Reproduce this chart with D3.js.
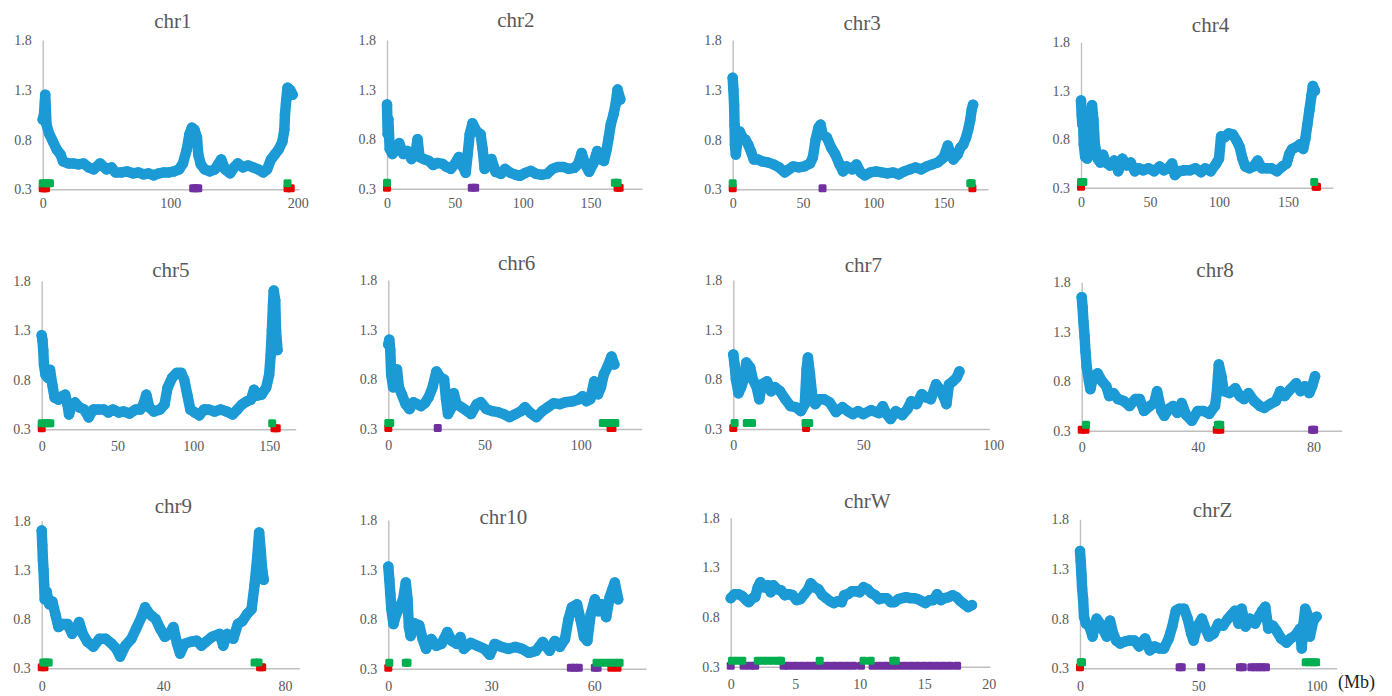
<!DOCTYPE html>
<html>
<head>
<meta charset="utf-8">
<script src="https://cdn.jsdelivr.net/npm/d3@7"></script>
<style>
  body { margin: 0; background: #fff; }
  svg { display: block; }
</style>
</head>
<body>
<script>
// ---- data ----
const chrNames = ["chr1", "chr2", "chr3", "chr4", "chr5", "chr6", "chr7", "chr8", "chr9", "chr10", "chrW", "chrZ"];
const axisMax = [201, 188, 181.6, 182.6, 167.5, 131.7, 98.5, 89.7, 84.7, 75.1, 20.1, 108.5];
const xTickValues = [
    [0, 100, 200], [0, 50, 100, 150], [0, 50, 100, 150], [0, 50, 100, 150],
    [0, 50, 100, 150], [0, 50, 100], [0, 50, 100], [0, 40, 80],
    [0, 40, 80], [0, 30, 60], [0, 5, 10, 15, 20], [0, 50, 100]
];
const yTickValues = [0.3, 0.8, 1.3, 1.8];

const ratioChr1 = [[0,1.0],[1,1.05],[2,1.25],[3,0.95],[5,0.86],[8,0.78],[11,0.7],[14,0.65],[16,0.58],[20,0.56],[24,0.56],[28,0.55],[32,0.56],[36,0.52],[40,0.5],[45,0.56],[50,0.5],[54,0.52],[57,0.47],[62,0.47],[66,0.48],[71,0.46],[75,0.47],[79,0.45],[83,0.46],[87,0.44],[91,0.46],[95,0.47],[99,0.47],[103,0.48],[107,0.5],[110,0.56],[113,0.7],[115,0.85],[117,0.92],[119,0.9],[121,0.82],[122,0.65],[124,0.55],[127,0.5],[131,0.48],[135,0.5],[138,0.56],[140,0.6],[143,0.5],[147,0.46],[150,0.52],[153,0.56],[157,0.52],[161,0.54],[165,0.52],[169,0.5],[173,0.47],[176,0.5],[179,0.6],[182,0.65],[185,0.7],[188,0.78],[189.5,0.9],[190,1.05],[191,1.2],[192,1.32],[194,1.3],[196,1.25]];
const ratioChr2 = [[0,1.15],[0.5,0.85],[1,1.0],[2,0.7],[4,0.65],[7,0.7],[9,0.76],[12,0.65],[15,0.68],[18,0.6],[21,0.65],[22.5,0.8],[24,0.62],[27,0.6],[31,0.58],[34,0.54],[37,0.56],[41,0.55],[44,0.52],[47,0.5],[50,0.55],[53,0.62],[56,0.52],[58,0.46],[59.5,0.65],[61,0.85],[63,0.96],[66,0.88],[69,0.85],[70.5,0.7],[72,0.5],[75,0.55],[77,0.6],[80,0.47],[84,0.45],[87,0.5],[91,0.46],[95,0.44],[98,0.43],[102,0.46],[106,0.48],[110,0.45],[114,0.44],[118,0.45],[122,0.5],[126,0.52],[130,0.52],[134,0.5],[138,0.51],[141,0.55],[143.5,0.66],[146,0.55],[149,0.47],[152,0.55],[155,0.68],[157,0.6],[160,0.58],[162,0.7],[163.5,0.82],[165,0.95],[167,1.05],[168.5,1.15],[170,1.3],[172,1.2]];
const ratioChr3 = [[0,1.42],[0.5,1.3],[1,1.15],[1.3,0.95],[1.6,0.75],[2.2,0.65],[3.5,0.8],[5,0.88],[7,0.82],[9,0.8],[11,0.75],[13,0.68],[15,0.6],[18,0.6],[21,0.58],[25,0.57],[29,0.55],[33,0.52],[37,0.47],[40,0.5],[43,0.53],[47,0.52],[51,0.53],[55,0.56],[57,0.62],[59,0.8],[61,0.92],[62.5,0.95],[64,0.85],[67,0.82],[70,0.72],[73,0.65],[76,0.55],[78.5,0.48],[81,0.53],[85,0.5],[88,0.55],[91,0.47],[94,0.44],[98,0.47],[102,0.48],[106,0.47],[110,0.46],[114,0.47],[118,0.45],[122,0.48],[126,0.5],[130,0.52],[134,0.5],[138,0.53],[142,0.55],[146,0.57],[150,0.62],[153,0.74],[155,0.66],[157,0.6],[160,0.65],[162,0.72],[164,0.75],[166,0.82],[167.5,0.9],[169,1.0],[170,1.1],[171,1.15]];
const ratioChr4 = [[0,1.2],[0.5,1.05],[1,0.95],[1.5,1.0],[2,0.75],[3,0.62],[4.5,0.6],[6,0.75],[7,0.95],[8,1.15],[9,1.0],[10,0.75],[12,0.6],[14,0.56],[16,0.64],[18,0.56],[21,0.53],[24,0.58],[27,0.47],[30,0.6],[33,0.53],[36,0.56],[39,0.47],[42,0.5],[45,0.48],[49,0.5],[53,0.47],[57,0.52],[60,0.48],[63,0.5],[66,0.55],[68,0.43],[71,0.47],[75,0.48],[79,0.48],[83,0.5],[87,0.46],[90,0.5],[94,0.47],[98,0.55],[100,0.6],[101.5,0.83],[104,0.82],[107,0.86],[110,0.85],[113,0.78],[115,0.72],[117,0.6],[119,0.52],[122,0.5],[125,0.52],[128,0.58],[131,0.5],[135,0.5],[138,0.5],[142,0.47],[146,0.52],[149,0.55],[151,0.65],[153,0.7],[156,0.72],[159,0.75],[161,0.7],[162.5,0.8],[164,0.95],[165.5,1.1],[167,1.25],[168,1.35],[169.5,1.3]];
const ratioChr5 = [[0,1.25],[0.5,1.2],[1,1.1],[1.5,0.95],[2.5,0.85],[4,0.82],[5.5,0.9],[7,0.75],[8.5,0.62],[11,0.6],[13,0.63],[15.5,0.65],[17,0.55],[18,0.45],[20,0.55],[22,0.57],[25,0.52],[28,0.5],[31,0.42],[34,0.5],[37,0.5],[41,0.5],[44,0.47],[47,0.5],[51,0.47],[54,0.48],[58,0.46],[62,0.5],[65,0.5],[67,0.55],[69,0.65],[71,0.52],[74,0.48],[78,0.5],[81,0.55],[83,0.72],[86,0.82],[89,0.87],[92,0.87],[94,0.8],[96,0.65],[98,0.5],[101,0.47],[104,0.44],[107,0.5],[110,0.5],[114,0.48],[118,0.5],[122,0.48],[126,0.45],[129,0.5],[132,0.55],[135,0.58],[138,0.6],[140,0.7],[142,0.64],[145,0.65],[148,0.72],[150,0.85],[151,1.05],[151.8,1.3],[152.5,1.55],[153,1.7],[154,1.6],[154.5,1.3],[155.5,1.1]];
const ratioChr6 = [[0,1.15],[0.5,1.2],[1,1.1],[1.5,0.85],[2.5,0.72],[3.5,0.8],[4.5,0.9],[5.5,0.72],[7,0.65],[9,0.55],[11,0.5],[13,0.57],[15,0.55],[17,0.53],[19,0.56],[21,0.62],[23,0.72],[25,0.88],[27,0.82],[29,0.8],[30,0.6],[31,0.45],[33,0.52],[34,0.66],[35.5,0.55],[38,0.52],[41,0.48],[43,0.45],[46,0.55],[48,0.57],[51,0.5],[54,0.48],[57,0.47],[60,0.45],[63,0.42],[66,0.45],[69,0.48],[71,0.52],[74,0.46],[77,0.42],[80,0.48],[83,0.52],[86,0.56],[89,0.55],[92,0.57],[96,0.58],[99,0.6],[101,0.63],[103,0.58],[105,0.6],[107,0.78],[109,0.65],[110.5,0.72],[112,0.85],[114,0.93],[116,1.03],[117.5,0.95]];
const ratioChr7 = [[0,1.05],[0.5,0.95],[1,0.8],[2,0.66],[3,0.72],[4,0.8],[5,0.97],[6.5,0.92],[7.5,0.8],[9,0.72],[10,0.6],[11,0.75],[13,0.78],[14.5,0.68],[16,0.72],[18,0.68],[20,0.6],[22,0.53],[24,0.52],[26,0.48],[27.5,0.55],[28.2,0.9],[28.7,1.02],[29.5,0.85],[30.5,0.6],[31.5,0.55],[33,0.6],[35,0.6],[37,0.57],[39.5,0.47],[42,0.52],[44,0.48],[46,0.45],[48,0.48],[50,0.45],[53,0.49],[56,0.46],[57.5,0.53],[59,0.45],[60.5,0.4],[62.5,0.48],[65,0.44],[67,0.5],[68.5,0.58],[70.5,0.55],[72.5,0.65],[74,0.62],[76,0.6],[78,0.75],[79.5,0.7],[81,0.62],[82,0.55],[83,0.75],[84.5,0.78],[86,0.82],[87,0.88]];
const ratioChr8 = [[0,1.65],[0.3,1.55],[0.6,1.4],[1,1.25],[1.3,1.1],[1.7,0.95],[2.5,0.8],[3,0.72],[4,0.85],[5.5,0.88],[7,0.8],[8.5,0.75],[9.5,0.65],[11,0.68],[12.5,0.62],[14.5,0.6],[16.5,0.55],[18.5,0.62],[20,0.62],[21.5,0.5],[23.5,0.55],[25,0.58],[26,0.7],[27.5,0.5],[28.5,0.45],[30,0.52],[31.5,0.55],[33,0.48],[34.5,0.58],[36,0.46],[38,0.4],[40,0.5],[42,0.5],[44,0.47],[46,0.55],[46.6,0.68],[47.3,0.97],[48.2,0.85],[49,0.7],[51,0.68],[53,0.73],[54.5,0.65],[56,0.62],[57.5,0.68],[59.5,0.6],[61.5,0.55],[63,0.53],[65,0.57],[67,0.6],[68.5,0.7],[70,0.65],[72,0.72],[74,0.78],[75.5,0.7],[77,0.75],[78.5,0.68],[79.5,0.75],[80.5,0.85]];
const ratioChr9 = [[0,1.7],[0.2,1.55],[0.4,1.4],[0.6,1.3],[0.8,1.15],[1,1.0],[1.6,1.08],[2.5,0.95],[3.5,0.98],[4.5,0.85],[5.5,0.72],[7,0.75],[8.5,0.75],[10,0.65],[11.5,0.72],[12.3,0.77],[13.5,0.65],[15,0.57],[17,0.52],[19,0.6],[21,0.6],[23,0.55],[24.5,0.5],[25.8,0.42],[27.5,0.53],[29.5,0.6],[31,0.7],[32.8,0.82],[34,0.92],[35.5,0.85],[37.5,0.8],[39,0.7],[40.5,0.62],[42,0.65],[43.3,0.72],[44.5,0.55],[45.5,0.45],[47,0.55],[49,0.57],[51,0.58],[52.5,0.53],[54,0.57],[56,0.62],[58.5,0.65],[59.7,0.53],[61,0.65],[63,0.6],[64.5,0.75],[66,0.78],[67.5,0.85],[69,0.9],[70,1.15],[70.8,1.4],[71.5,1.68],[72,1.5],[72.5,1.3],[73,1.2]];
const ratioChr10 = [[0,1.33],[0.3,1.2],[0.6,1.05],[0.9,0.9],[1.5,0.75],[2.3,0.85],[3.3,0.92],[4.3,1.0],[5.1,1.17],[5.6,1.0],[6,0.72],[6.5,0.63],[7.5,0.76],[9,0.74],[10,0.6],[11,0.5],[12.5,0.6],[14,0.53],[15.5,0.55],[17.2,0.67],[18.5,0.58],[20,0.55],[21,0.62],[22,0.5],[24,0.56],[26,0.53],[28,0.5],[29.6,0.44],[31,0.55],[33,0.52],[35,0.5],[37,0.52],[39,0.5],[41,0.46],[43,0.48],[45,0.57],[47,0.48],[48.5,0.58],[50,0.52],[51.5,0.6],[52.5,0.8],[53.5,0.92],[55,0.95],[56,0.8],[57,0.62],[58,0.58],[59,0.85],[60.2,1.0],[61.2,0.88],[62.2,0.95],[63.5,0.82],[64.5,1.02],[65.3,1.1],[66,1.17],[67,1.0]];
const ratioChrW = [[0,0.99],[0.3,1.03],[0.6,1.03],[0.9,1.01],[1.2,0.97],[1.4,0.95],[1.7,0.99],[1.9,1.0],[2.1,1.1],[2.3,1.15],[2.6,1.1],[2.9,1.12],[3.1,1.05],[3.3,1.12],[3.6,1.08],[3.9,1.07],[4.2,1.02],[4.5,1.03],[4.8,1.02],[5.1,0.97],[5.4,0.98],[5.7,1.03],[6.0,1.08],[6.2,1.14],[6.5,1.1],[6.8,1.08],[7.1,1.02],[7.4,0.99],[7.7,0.96],[8.0,0.94],[8.3,0.96],[8.6,0.95],[8.8,1.02],[9.1,1.03],[9.4,1.06],[9.7,1.06],[10.0,1.05],[10.3,1.1],[10.6,1.08],[10.9,1.04],[11.2,1.02],[11.5,0.98],[11.8,0.99],[12.1,0.99],[12.4,0.95],[12.7,0.95],[13.0,0.98],[13.3,0.99],[13.6,1.0],[13.9,0.99],[14.2,0.99],[14.5,0.98],[14.8,0.96],[15.1,0.94],[15.4,0.97],[15.7,0.97],[16.0,1.03],[16.3,0.97],[16.6,0.99],[16.9,1.0],[17.2,1.02],[17.5,1.0],[17.8,0.96],[18.1,0.93],[18.4,0.9],[18.7,0.92]];
const ratioChrZ = [[0,1.48],[0.3,1.38],[0.6,1.25],[0.9,1.1],[1.3,1.0],[1.7,0.82],[2.5,0.75],[4,0.72],[5.3,0.62],[6,0.7],[7,0.8],[8.5,0.75],[10,0.68],[11.3,0.62],[12.7,0.78],[14,0.65],[15.3,0.58],[17,0.55],[19,0.57],[21,0.58],[23,0.58],[25,0.52],[27.5,0.6],[29.5,0.48],[31.5,0.52],[33.5,0.5],[35.5,0.5],[37.5,0.6],[39,0.72],[40.5,0.88],[42,0.9],[44,0.9],[45.5,0.8],[47,0.65],[48,0.58],[49.5,0.72],[51.5,0.8],[53,0.7],[54.5,0.62],[56.5,0.65],[58.5,0.75],[60.5,0.73],[62.5,0.8],[64,0.84],[65.5,0.88],[67,0.75],[68.3,0.9],[70,0.72],[71.8,0.8],[74,0.75],[75.5,0.82],[77,0.88],[78.3,0.92],[79.6,0.7],[81.5,0.73],[83,0.68],[85,0.6],[87.3,0.56],[89,0.6],[91,0.63],[93,0.7],[93.7,0.5],[94.5,0.75],[95.2,0.9],[96,0.85],[97.2,0.62],[98.6,0.78],[100,0.82]];
const ratioSeries = [ratioChr1, ratioChr2, ratioChr3, ratioChr4, ratioChr5, ratioChr6, ratioChr7, ratioChr8, ratioChr9, ratioChr10, ratioChrW, ratioChrZ];

// marker positions (Mb), one list per chromosome in chrNames order
const greenSites = [
    [0, 2, 4, 5.7, 192], [0, 168, 170], [0, 169, 170], [0, 1.7, 169],
    [0, 2, 4, 5.7, 152], [0, 1, 111.5, 113.5, 115.5, 118], [0.5, 5.2, 6.2, 7.2, 27.8, 29.2], [1.5, 47, 47.8],
    [0.5, 1.4, 2.3, 70, 71.3], [0.3, 5.1, 5.6, 60.7, 62.5, 64.3, 66, 67.4],
    [0.1, 0.5, 0.9, 2.1, 2.5, 2.9, 3.3, 3.7, 3.9, 6.9, 10.3, 10.85, 12.6, 12.8],
    [0.3, 0.85, 95.4, 97, 98.5, 99.8]
];
const redSites = [
    [0, 1.3, 2.6, 192, 194.5], [0, 170, 171.5], [0, 170.5], [0, 170, 171],
    [0, 153.5, 155], [0, 115.5, 116.5], [0, 28], [0, 1.3, 46.6, 47.8],
    [0, 0.9, 71.8, 72.5], [0, 65, 66.8], [], [0]
];
const purpleSites = [
    [118, 120, 122], [62.5, 65], [63.9], [],
    [], [25.7], [], [79.5, 80.2],
    [], [53.2, 54.3, 55.5, 60.2, 61],
    [0, 1.0, 1.5, 1.9, 4.1, 4.5, 5.0, 5.5, 6.0, 6.5, 7.0, 7.5, 8.0, 8.5, 9.0, 9.5, 10.1, 11.0, 11.5, 12.0, 12.5, 13.0, 13.5, 14.0, 14.5, 15.0, 15.5, 16.0, 16.5, 17.0, 17.55],
    [42.1, 43, 51.2, 67.6, 68.8, 72.4, 74, 75.5, 77, 78.6]
];
const greenLevel = 0.36;
const redLevel = 0.31;
const purpleLevel = 0.31;

// ---- layout ----
// [x of y-axis, right end of x-axis, y of 1.8, y of 0.3]
const panelBox = [
    [42.7, 299, 40, 189.3], [387, 642, 40, 188.7], [732.7, 988, 40, 189.3], [1081, 1333, 42.3, 187.7],
    [41.7, 295.7, 280.7, 429.3], [388.3, 641.7, 280, 429], [733.3, 989.3, 280, 429], [1081.7, 1341.7, 282.3, 430.7],
    [41.7, 299.3, 520.7, 668.3], [388.3, 646, 520, 668.7], [730.7, 990, 517.7, 666.7], [1080, 1336.7, 519.3, 668.3]
];
const titlePos = [
    [172.8, 28.3], [515.8, 26.7], [862.2, 30], [1210.5, 31.7],
    [170.8, 276.7], [516.7, 270], [863.3, 271.7], [1215, 276.7],
    [173.3, 512.7], [503.3, 524], [867.2, 507.7], [1212.5, 516.7]
];
const xLabelPad = [9, 9, 9, 9, 11.5, 11.5, 11.5, 11.5, 12.8, 12.8, 12.8, 12.8];

const width = 1392;
const height = 696;
const serif = "'Liberation Serif', 'Times New Roman', serif";
const textGrey = "#595959";
const axisGrey = "#BFBFBF";
const blue = "#1C9AD6";
const green = "#00B050";
const red = "#E60000";
const purple = "#7030A0";
const markSize = 8;

const svg = d3.select("body")
    .append("svg")
    .attr("width", width)
    .attr("height", height);

chrNames.forEach((name, i) => {
    const [x0, x1, yTop, yBot] = panelBox[i];

    const x = d3.scaleLinear().domain([0, axisMax[i]]).range([x0, x1]);
    const y = d3.scaleLinear().domain([0.3, 1.8]).range([yBot, yTop]);

    const g = svg.append("g").attr("class", "panel");

    // axes
    const xAxis = g.append("g")
        .attr("transform", `translate(0,${yBot})`)
        .call(d3.axisBottom(x).tickValues(xTickValues[i]).tickSize(0).tickPadding(xLabelPad[i]).tickFormat(d3.format("d")));
    const yAxis = g.append("g")
        .attr("transform", `translate(${x0},0)`)
        .call(d3.axisLeft(y).tickValues(yTickValues).tickSize(0).tickPadding(11).tickFormat(d3.format(".1f")));

    [xAxis, yAxis].forEach(a => {
        a.attr("font-family", serif).attr("font-size", 14);
        a.select(".domain").attr("stroke", axisGrey).attr("stroke-width", 1.4);
        a.selectAll("text").attr("fill", textGrey);
    });

    // title
    g.append("text")
        .attr("x", titlePos[i][0])
        .attr("y", titlePos[i][1])
        .attr("text-anchor", "middle")
        .attr("font-family", serif)
        .attr("font-size", 21)
        .attr("fill", textGrey)
        .text(name);

    // ratio band: thick line plus dots
    const line = d3.line()
        .x(d => x(d[0]))
        .y(d => y(d[1]));

    g.append("path")
        .datum(ratioSeries[i])
        .attr("d", line)
        .attr("fill", "none")
        .attr("stroke", blue)
        .attr("stroke-width", 10.5)
        .attr("stroke-linejoin", "round")
        .attr("stroke-linecap", "round");

    g.selectAll(".dot")
        .data(ratioSeries[i])
        .join("circle")
            .attr("class", "dot")
            .attr("cx", d => x(d[0]))
            .attr("cy", d => y(d[1]))
            .attr("r", 5.2)
            .attr("fill", blue);

    // site markers
    const drawMarks = (sites, level, colour, cls) => {
        g.selectAll("." + cls)
            .data(sites)
            .join("rect")
                .attr("class", cls)
                .attr("x", d => x(d) - markSize / 2)
                .attr("y", y(level) - markSize / 2)
                .attr("width", markSize)
                .attr("height", markSize)
                .attr("rx", 1.5)
                .attr("fill", colour);
    };
    drawMarks(purpleSites[i], purpleLevel, purple, "purple-mark");
    drawMarks(redSites[i], redLevel, red, "red-mark");
    drawMarks(greenSites[i], greenLevel, green, "green-mark");
});

svg.append("text")
    .attr("x", 1338)
    .attr("y", 688)
    .attr("font-family", serif)
    .attr("font-size", 18)
    .attr("fill", "#222")
    .text("(Mb)");
</script>
</body>
</html>
